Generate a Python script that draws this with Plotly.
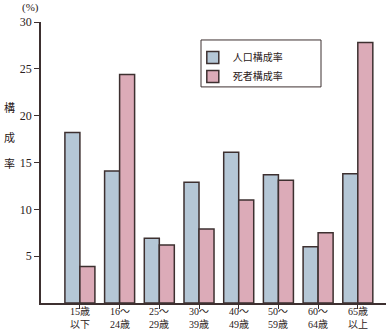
import plotly.graph_objects as go

cat_line1 = ["15歳", "16～", "25～", "30～", "40～", "50～", "60～", "65歳"]
cat_line2 = ["以下", "24歳", "29歳", "39歳", "49歳", "59歳", "64歳", "以上"]
population = [18.2, 14.1, 6.9, 12.9, 16.1, 13.7, 6.0, 13.8]
deaths = [3.9, 24.4, 6.2, 7.9, 11.0, 13.1, 7.5, 27.8]
y_ticks = [5, 10, 15, 20, 25, 30]

FONT = "Liberation Serif, Noto Sans CJK JP, serif"
x = list(range(len(cat_line1)))

fig = go.Figure()
fig.add_trace(go.Bar(x=x, y=population, name="人口構成率",
                     marker=dict(color="#b5c7d6", line=dict(color="#3d3030", width=1.5))))
fig.add_trace(go.Bar(x=x, y=deaths, name="死者構成率",
                     marker=dict(color="#dcabb8", line=dict(color="#3d3030", width=1.5))))

fig.update_layout(
    width=392, height=330,
    margin=dict(l=41, r=6, t=22, b=27),
    paper_bgcolor="white", plot_bgcolor="white",
    barmode="group", bargap=0.244, bargroupgap=0,
    font=dict(family=FONT, size=11, color="#2a2020"),
    showlegend=True,
    legend=dict(x=0.44, y=0.925, xanchor="left", yanchor="top",
                borderwidth=0, bgcolor="rgba(0,0,0,0)",
                font=dict(size=10, family="Noto Sans CJK JP"),
                itemwidth=30),
    xaxis=dict(range=[-0.98, 7.71], tickmode="array", tickvals=x,
               ticktext=["" for _ in x], automargin=False,
               showline=True, linecolor="#3d3030", linewidth=1.5,
               ticks="outside", ticklen=4, tickcolor="#3d3030",
               showgrid=False, zeroline=False),
    yaxis=dict(range=[0, 30], tickmode="array", tickvals=y_ticks, automargin=False,
               showline=True, linecolor="#3d3030", linewidth=1.5,
               ticks="outside", ticklen=5, tickcolor="#3d3030",
               showgrid=False, zeroline=False, tickfont=dict(size=12)),
)

# legend frame
fig.add_shape(type="rect", xref="paper", yref="paper",
              x0=0.4638, x1=0.8116, y0=0.769, y1=0.936,
              line=dict(color="#3d3030", width=1), fillcolor="rgba(0,0,0,0)")

# category labels (two lines)
for xi, a, b in zip(x, cat_line1, cat_line2):
    fig.add_annotation(text=a + "<br>" + b, x=xi, xref="x", y=0, yref="paper",
                       yanchor="middle", yshift=-15, showarrow=False,
                       borderpad=0, font=dict(size=10))

fig.add_annotation(text="(%)", xref="paper", yref="paper", x=0, y=1,
                   xanchor="right", yanchor="bottom", xshift=0, yshift=6,
                   showarrow=False, font=dict(size=11))
for ch, yy in zip(["構", "成", "率"], [20.9, 17.7, 15.0]):
    fig.add_annotation(text=ch, xref="paper", yref="y", x=0, y=yy,
                       xanchor="center", xshift=-32, showarrow=False,
                       font=dict(size=11, family="Noto Sans CJK JP"))

fig.write_html("out.html")
